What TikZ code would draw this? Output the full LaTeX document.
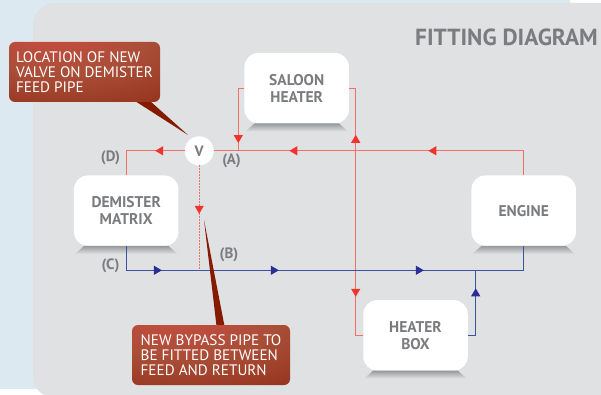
\documentclass[tikz,border=0pt]{standalone}
\usepackage{fontspec}
\setmainfont{PT Sans}
\usetikzlibrary{arrows.meta,decorations.markings,shapes.geometric}
\definecolor{paleblue}{RGB}{220,233,241}
\definecolor{panelgrey}{RGB}{224,225,227}
\definecolor{labelgrey}{RGB}{122,124,127}
\definecolor{shadowgrey}{RGB}{150,153,155}
\definecolor{feedred}{RGB}{243,112,104}
\definecolor{tipred}{RGB}{240,52,44}
\definecolor{returnblue}{RGB}{62,82,165}
\definecolor{tipblue}{RGB}{45,45,150}
\definecolor{noteglow}{RGB}{204,76,66}
\definecolor{notemid}{RGB}{170,78,56}
\definecolor{noteedge}{RGB}{148,50,28}
\definecolor{notedark}{RGB}{132,26,0}
\pgfdeclareradialshading{notered}{\pgfpoint{-12bp}{38bp}}{%
  color(0bp)=(noteglow); color(30bp)=(notemid); color(58bp)=(noteedge); color(84bp)=(notedark); color(120bp)=(notedark)}
\tikzset{
  unitbox/.style  = {fill=white, rounded corners=14pt, inner sep=0pt, outer sep=0pt, align=center,
                     minimum width=104.5pt, minimum height=70.5pt, text=labelgrey,
                     font=\fontsize{15.5}{17}\selectfont\bfseries},
  boxshadow/.style = {top color=shadowgrey, bottom color=panelgrey},
  valvenode/.style = {circle, fill=white, inner sep=0pt, outer sep=0pt, minimum size=29pt, text=labelgrey,
                     font=\fontsize{15}{17}\selectfont\bfseries},
  note/.style     = {rounded corners=6pt, shading=notered, inner sep=0pt, outer sep=0pt, align=left,
                     text=white, font=\fontsize{15.2}{15}\selectfont},
  notetail/.style = {fill=notedark},
  pipelabel/.style = {text=labelgrey, font=\fontsize{15}{15}\selectfont\bfseries},
  feed/.style     = {draw=feedred, line width=1.2pt, tipcolor=tipred},
  return/.style   = {draw=returnblue, line width=1.1pt, tipcolor=tipblue},
  bypass/.style   = {draw=feedred, line width=1.2pt, dash pattern=on 1.5pt off 1.5pt},
  tipcolor/.code  = {\def\pipetip{#1}},
  tip at/.style   = {postaction={decorate, decoration={markings, mark=at position #1 with
                     {\arrow[\pipetip]{Triangle[length=8pt,width=9pt]}}}}},
}

\begin{document}
\begin{tikzpicture}[x=1pt,y=-1pt]
  \useasboundingbox (0,0) rectangle (601,395);
  \clip (0,0) rectangle (601,395);
  % backdrop
  \fill[paleblue] (0,0) rectangle (570,389);
  \fill[panelgrey, rounded corners=22pt] (33,398) -- (33,3) -- (640,3) -- (640,398) -- cycle;
  \node[text=labelgrey, font=\fontsize{23.3}{26}\selectfont\bfseries] (title) at (506.5,37) {FITTING DIAGRAM};

  \node[unitbox] (saloon)   at (296.7,88.2)  {SALOON \\ HEATER};
  \node[unitbox] (demister) at (126.2,210.7) {DEMISTER \\ MATRIX};
  \node[unitbox] (engine)   at (523.7,210.7) {ENGINE};
  \node[unitbox] (heater)   at (415.5,335.3) {HEATER \\ BOX};
  \node[valvenode] (valve)  at (199.2,150.8) {V};
  \foreach \boxname in {saloon,demister,engine,heater}
    \shade[boxshadow] ([xshift=10pt]\boxname.south west) -- ++(-9,8)
      -- ([xshift=-1pt,yshift=-8pt]\boxname.south east) -- ([xshift=-10pt]\boxname.south east) -- cycle;

  \coordinate (saloontee) at (238.3,150.8);
  \coordinate (heatertee) at (355.7,150.8);
  \coordinate (returntee) at (475.7,270.3);
  \coordinate (bypassend) at (199.2,270.3);

  % feed side
  \draw[feed, tip at=120pt, tip at=259pt] (engine.north) |- (valve.east);
  \draw[feed, tip at=29.5pt] (valve.west) -| (demister.north);
  \draw[feed, tip at=61pt] (saloon.west) -| (saloontee);
  \draw[feed, tip at=16pt] (heatertee) |- (saloon.east);
  \draw[feed, tip at=146pt] (heatertee) |- (heater.west);
  % return side
  \draw[return, tip at=60pt, tip at=177pt, tip at=322pt] (demister.south) |- (returntee) -| (engine.south);
  \draw[return, tip at=55pt] (heater.east) -| (returntee);
  \draw[bypass] (valve.south) -- (bypassend);
  \path[tipcolor=tipred, tip at=48.5pt] (valve.south) -- (bypassend);

  \node[pipelabel] (labeld) at (110.5,158) {(D)};
  \node[pipelabel] (labela) at (231.5,161) {(A)};
  \node[pipelabel] (labelc) at (110.5,266) {(C)};
  \node[pipelabel] (labelb) at (229,255) {(B)};

  \fill[notetail] (135,101) -- (150,101) -- (188,135) -- cycle;
  \fill[notetail] (216.5,326) -- (224.5,326) -- (204,220) -- cycle;
  \node[note, minimum width=151pt, minimum height=60pt] (valvenote) at (84.5,72)
    {LOCATION OF NEW \\ VALVE ON DEMISTER \\ FEED PIPE};
  \node[note, minimum width=158pt, minimum height=60pt] (bypassnote) at (211,355)
    {NEW BYPASS PIPE TO \\ BE FITTED BETWEEN \\ FEED AND RETURN};
\end{tikzpicture}
\end{document}
